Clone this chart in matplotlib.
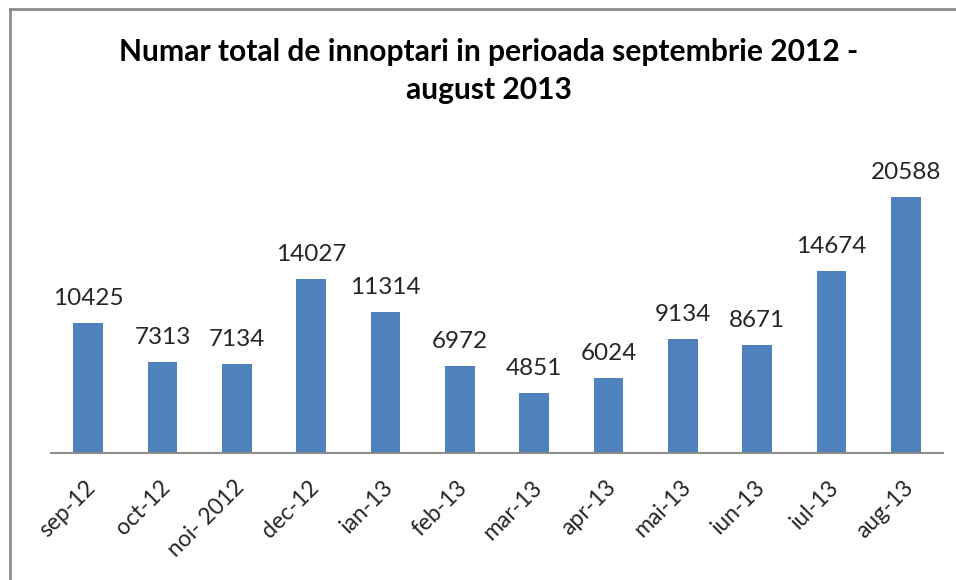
import matplotlib.pyplot as plt
from matplotlib.lines import Line2D
from matplotlib.transforms import ScaledTranslation

months = ["sep-12", "oct-12", "noi- 2012", "dec-12", "ian-13", "feb-13",
          "mar-13", "apr-13", "mai-13", "iun-13", "iul-13", "aug-13"]
counts = [10425, 7313, 7134, 14027, 11314, 6972, 4851, 6024, 9134, 8671, 14674, 20588]

plt.rcParams['font.family'] = ['Lato', 'DejaVu Sans']

fig = plt.figure(figsize=(9.56, 5.8), dpi=100)
ax = fig.add_axes([0.0533, 0.219, 0.9331, 0.536])

x = range(len(months))
bars = ax.bar(x, counts, width=0.4, color='#4F81BD')
for b, v in zip(bars, counts):
    ax.annotate(str(v), (b.get_x() + b.get_width() / 2, v), xytext=(0, 14),
                textcoords='offset pixels', ha='center', va='bottom',
                fontsize=17.5, color='#262626')

ax.set_xlim(-0.5, len(months) - 0.5)
ax.set_ylim(0, 25000)
ax.set_xticks(list(x))
ax.set_xticklabels(months, rotation=45, ha='right', rotation_mode='anchor',
                   fontsize=16.5, color='#262626')
ax.tick_params(axis='x', length=0, pad=17)
shift = ScaledTranslation(-3 / 100, 0, fig.dpi_scale_trans)
for lbl in ax.get_xticklabels():
    lbl.set_transform(lbl.get_transform() + shift)
ax.set_yticks([])
for s in ['top', 'right', 'left']:
    ax.spines[s].set_visible(False)
ax.spines['bottom'].set_color('#8c8c8c')
ax.spines['bottom'].set_linewidth(1.5)

tx = 489 / 956
fig.text(tx, 1 - 52 / 580, "Numar total de innoptari in perioada septembrie 2012 -",
         ha='center', va='center', fontsize=21.6, fontweight='bold')
fig.text(tx, 1 - 90 / 580, "august 2013",
         ha='center', va='center', fontsize=21.6, fontweight='bold')

# chart frame (only left and top edges visible in the crop)
fig.add_artist(Line2D([10 / 956, 10 / 956], [0, 1 - 9 / 580], color='#8c8c8c', lw=2))
fig.add_artist(Line2D([10 / 956, 1], [1 - 9 / 580, 1 - 9 / 580], color='#8c8c8c', lw=2))

fig.savefig("out.png", dpi=100)
